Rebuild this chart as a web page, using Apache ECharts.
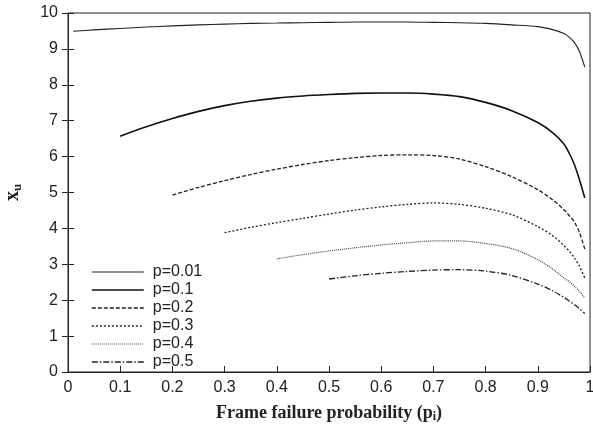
<!DOCTYPE html>
<html><head><meta charset="utf-8">
<script src="https://cdn.jsdelivr.net/npm/echarts@6/dist/echarts.min.js"></script>
<style>html,body{margin:0;padding:0;background:#fff}#c{width:593px;height:433px}</style>
</head><body><div id="c"></div>
<script>
var seriesNames = ['p=0.01','p=0.1','p=0.2','p=0.3','p=0.4','p=0.5'];
var xTicks = [0,0.1,0.2,0.3,0.4,0.5,0.6,0.7,0.8,0.9,1];
var yTicks = [0,1,2,3,4,5,6,7,8,9,10];
var p001 = [[0.01,9.49],[0.05,9.53],[0.1,9.57],[0.15,9.61],[0.2,9.64],[0.25,9.67],[0.3,9.69],[0.35,9.71],[0.4,9.72],[0.45,9.73],[0.5,9.74],[0.55,9.75],[0.6,9.75],[0.65,9.75],[0.7,9.74],[0.75,9.73],[0.8,9.71],[0.85,9.67],[0.9,9.62],[0.93,9.53],[0.95,9.43],[0.96,9.33],[0.97,9.18],[0.98,8.92],[0.99,8.49]];
var p01 = [[0.1,6.57],[0.15,6.83],[0.2,7.06],[0.25,7.26],[0.3,7.42],[0.35,7.54],[0.4,7.63],[0.45,7.69],[0.5,7.73],[0.55,7.76],[0.6,7.77],[0.65,7.77],[0.7,7.74],[0.75,7.67],[0.8,7.51],[0.85,7.28],[0.9,6.95],[0.93,6.65],[0.95,6.35],[0.96,6.1],[0.97,5.78],[0.98,5.35],[0.99,4.85]];
var p02 = [[0.2,4.93],[0.25,5.14],[0.3,5.33],[0.35,5.50],[0.4,5.65],[0.45,5.78],[0.5,5.89],[0.55,5.97],[0.6,6.03],[0.65,6.05],[0.7,6.03],[0.75,5.93],[0.8,5.72],[0.85,5.44],[0.9,5.08],[0.93,4.78],[0.95,4.52],[0.96,4.36],[0.97,4.18],[0.98,3.88],[0.99,3.42]];
var p03 = [[0.3,3.88],[0.35,4.03],[0.4,4.16],[0.45,4.28],[0.5,4.40],[0.55,4.51],[0.6,4.60],[0.65,4.67],[0.7,4.71],[0.75,4.67],[0.8,4.56],[0.85,4.38],[0.9,4.05],[0.93,3.78],[0.95,3.52],[0.96,3.37],[0.97,3.18],[0.98,2.94],[0.99,2.62]];
var p04 = [[0.4,3.15],[0.45,3.27],[0.5,3.37],[0.55,3.46],[0.6,3.54],[0.65,3.60],[0.7,3.65],[0.75,3.65],[0.8,3.58],[0.85,3.44],[0.9,3.13],[0.93,2.85],[0.95,2.62],[0.96,2.52],[0.97,2.39],[0.98,2.24],[0.99,2.06]];
var p05 = [[0.5,2.59],[0.55,2.68],[0.6,2.75],[0.65,2.80],[0.7,2.84],[0.75,2.85],[0.8,2.81],[0.85,2.69],[0.9,2.45],[0.93,2.25],[0.95,2.08],[0.96,1.98],[0.97,1.88],[0.98,1.76],[0.99,1.63]];
var allData = [p001,p01,p02,p03,p04,p05];
var styles = [
  {color:'#222', width:1.1, type:'solid'},
  {color:'#111', width:1.6, type:'solid'},
  {color:'#222', width:1.3, type:[4,2]},
  {color:'#222', width:1.3, type:[2,2]},
  {color:'#444', width:1.2, type:[1,1]},
  {color:'#222', width:1.3, type:[6,2,1.5,2]}
];
var chart = echarts.init(document.getElementById('c'), null, {renderer:'canvas'});
var axisFont = {fontFamily:'Liberation Sans, Arial, sans-serif', fontSize:16, color:'#222'};
chart.setOption({
  animation:false,
  grid:{left:68, right:3, top:13, bottom:61, show:true, borderColor:'#222', borderWidth:1, backgroundColor:'transparent', outerBoundsMode:'none', containLabel:false},
  legend:{
    orient:'vertical', left:86, top:259, itemWidth:52, itemHeight:10, itemGap:2,
    data:seriesNames,
    itemStyle:{opacity:0},
    lineStyle:{width:'inherit'},
    textStyle:{fontFamily:'Liberation Sans, Arial, sans-serif', fontSize:16, color:'#222', padding:[0,0,0,4]}
  },
  xAxis:{
    type:'value', min:0, max:1, interval:0.1,
    axisLine:{lineStyle:{color:'#222', width:1}},
    axisTick:{inside:true, length:6, lineStyle:{color:'#222'}},
    splitLine:{show:false},
    axisLabel:Object.assign({margin:8, formatter:function(v){return xTicks.indexOf(+v.toFixed(1))>=0 ? String(+v.toFixed(1)) : '';}}, axisFont),
    name:'{a|Frame failure probability (p}{s|i}{a|)}', nameLocation:'middle', nameGap:31,
    nameTextStyle:{rich:{
      a:{fontFamily:'Liberation Serif, Times New Roman, serif', fontWeight:'bold', fontSize:18, color:'#222'},
      s:{fontFamily:'Liberation Serif, Times New Roman, serif', fontWeight:'bold', fontSize:12, color:'#222', verticalAlign:'bottom', padding:[8,0,0,0]}
    }}
  },
  yAxis:[{
    type:'value', min:0, max:10, interval:1,
    axisLine:{show:true, lineStyle:{color:'#222', width:1}},
    axisTick:{show:true, inside:false, length:6, lineStyle:{color:'#222'}},
    splitLine:{show:false},
    axisLabel:Object.assign({margin:10, formatter:function(v){return yTicks.indexOf(v)>=0 ? String(v) : '';}}, axisFont),
    name:'{a|x}{s|u}', nameLocation:'middle', nameGap:44, nameRotate:90,
    nameTextStyle:{rich:{
      a:{fontFamily:'Liberation Serif, Times New Roman, serif', fontWeight:'bold', fontSize:20, color:'#222'},
      s:{fontFamily:'Liberation Serif, Times New Roman, serif', fontWeight:'bold', fontSize:13, color:'#222', padding:[10,0,0,0]}
    }}
  },{
    type:'value', min:0, max:10, interval:1, position:'left',
    axisLine:{show:false}, axisLabel:{show:false}, splitLine:{show:false},
    axisTick:{show:true, inside:true, length:6, lineStyle:{color:'#222'}}
  }],
  series: seriesNames.map(function(n,i){
    return {
      name:n, type:'line', data:allData[i], smooth:0.3, symbol:'none', showSymbol:false,
      lineStyle:{color:styles[i].color, width:styles[i].width, type:styles[i].type},
      itemStyle:{color:styles[i].color}
    };
  })
});
</script></body></html>
